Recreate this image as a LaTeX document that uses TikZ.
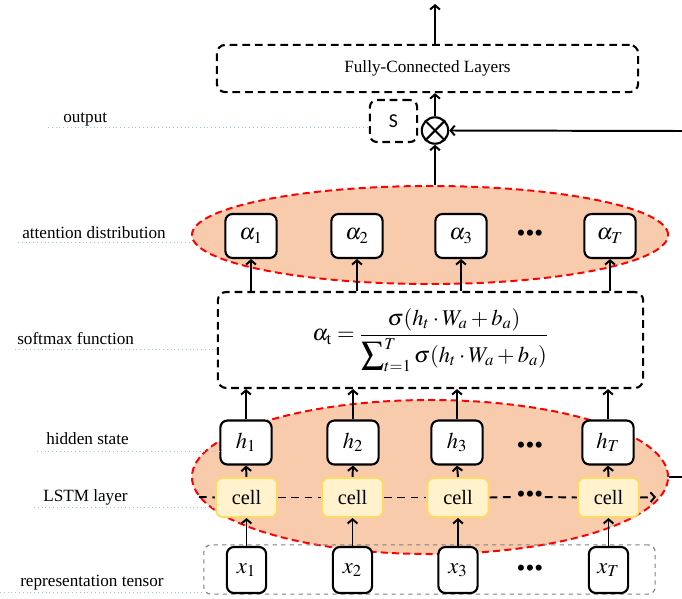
\documentclass[tikz,border=0pt]{standalone}
\usepackage{amsmath}
\usepackage{mathptmx}
\usepackage{fontspec}
\setmainfont{Liberation Serif}
\setsansfont{Carlito}
\usepackage{tikz}
\usetikzlibrary{arrows.meta,positioning,shapes.geometric,calc}
\definecolor{peach}{HTML}{F8CBAD}
\definecolor{dashred}{HTML}{FF0000}
\definecolor{cellbg}{HTML}{FFF2CC}
\definecolor{cellbd}{HTML}{FFD966}
\definecolor{guidebl}{HTML}{9DC3E6}
\definecolor{tensorbd}{HTML}{808080}
\tikzset{
  unitbox/.style={draw,fill=white,rounded corners=5pt,line width=1.5pt,
                  minimum width=1.28cm,minimum height=1.1cm,inner sep=0pt,
                  font=\fontsize{16}{18}\selectfont},
  inbox/.style={unitbox,minimum width=0.98cm,minimum height=1.15cm},
  cellbox/.style={draw=cellbd,fill=cellbg,rounded corners=5pt,line width=1.3pt,
                  minimum width=1.53cm,minimum height=0.98cm,inner sep=0pt,
                  font=\fontsize{14.5}{17}\selectfont},
  layerblob/.style={ellipse,draw=dashred,fill=peach,line width=1.4pt,
                    dash pattern=on 5pt off 3pt,inner sep=0pt},
  dashbox/.style={draw,rounded corners=6pt,line width=1.5pt,
                  dash pattern=on 5.5pt off 3.5pt,inner sep=0pt},
  guide/.style={draw=guidebl,line width=0.7pt,dotted},
  lbl/.style={anchor=base west,inner sep=0pt,
              font=\fontsize{12.2}{14}\selectfont},
  dotsrow/.style={inner sep=1pt,font=\fontsize{18}{20}\selectfont},
  chain/.style={line width=1.4pt,dash pattern=on 5.5pt off 4pt},
  arrowup/.style={-{Straight Barb[length=3pt,width=7pt]},line width=1.4pt},
}

\begin{document}
\begin{tikzpicture}[x=0.025cm,y=-0.025cm]
  \useasboundingbox (0,0) rectangle (682,598);
  % background blobs
  \node[layerblob,minimum width=11.9cm,minimum height=3.85cm] (lstm) at (430,477) {};
  \node[layerblob,minimum width=11.9cm,minimum height=2.45cm] (att) at (430,235) {};
  % input tensor frame
  \node[draw=tensorbd,dashed,rounded corners=5pt,line width=0.8pt,
        minimum width=11.28cm,minimum height=1.23cm] (rep) at (429.5,569.5) {};
  % softmax box
  \node[dashbox,minimum width=10.63cm,minimum height=2.4cm,
        font=\fontsize{16}{19}\selectfont] (sm) at (430.5,340)
    {$\alpha_{\mathrm{t}}=\dfrac{\sigma(h_t\cdot W_a+b_a)}
      {\displaystyle\sum\nolimits_{t=1}^{T}\sigma(h_t\cdot W_a+b_a)}$};
  % fully-connected block
  \node[dashbox,minimum width=10.53cm,minimum height=1.18cm,
        font=\fontsize{12.2}{14}\selectfont] (fc) at (427.5,68.5)
    {Fully-Connected Layers};
  % output S and product
  \node[dashbox,rounded corners=5pt,minimum width=1.18cm,minimum height=1.05cm,
        font=\sffamily\fontsize{14}{16}\selectfont] (S) at (393.5,121) {S};
  \node[circle,draw,line width=1.5pt,minimum size=0.66cm,inner sep=0pt]
    (ot) at (435,130.5) {};
  \draw[line width=1.5pt] (ot.north west) -- (ot.south east)
                          (ot.north east) -- (ot.south west);

  % columns
  \foreach \i/\ax/\hx/\cx in {1/251/246/246.5, 2/357/353/352.5,
                              3/461/457/458, T/610/608/608.5}{
    \node[unitbox] (a\i) at (\ax,236) {$\alpha_{\i}$};
    \node[unitbox] (h\i) at (\hx,442.5) {$h_{\i}$};
    \node[cellbox] (c\i) at (\cx,497.5) {cell};
    \node[inbox] (x\i) at (\cx,570) {$x_{\i}$};
    \draw[arrowup] (x\i.north) -- (c\i.south);
    \draw[arrowup] (c\i.north) -- (h\i.south);
    \draw[arrowup] (h\i.north) -- (h\i.north |- sm.south);
    \draw[arrowup] (a\i.south |- sm.north) -- (a\i.south);
  }
  \node[dotsrow] (ad) at (530,236) {\textbullet\textbullet\textbullet};
  \node[dotsrow] (hd) at (530,448) {\textbullet\textbullet\textbullet};
  \node[dotsrow] (cd) at (530,497) {\textbullet\textbullet\textbullet};
  \node[dotsrow] (xd) at (530,571) {\textbullet\textbullet\textbullet};

  % recurrent chain
  \coordinate (chin) at (199,497);
  \coordinate (chout) at (656,497);
  \draw[chain] (chin) -- (c1.west);
  \draw[chain] (c1.east) -- (c2.west);
  \draw[chain] (c2.east) -- (c3.west);
  \draw[chain] (c3.east) -- (cd.west);
  \draw[chain] (cd.east) -- (cT.west);
  \draw[chain,-{Straight Barb[length=3pt,width=7pt]}] (cT.east) -- (chout);

  % top part
  \coordinate (loopin) at (682,131);
  \coordinate (loopout) at (682,477);
  \coordinate (topout) at (435,4);
  \draw[line width=1.4pt] (lstm.east) -- (loopout);
  \draw[arrowup] (loopin) -- (ot.east);
  \draw[arrowup] (ot |- att.north) -- (ot.south);
  \draw[arrowup] (ot.north) -- (ot.north |- fc.south);
  \draw[arrowup] (fc.north -| ot) -- (topout);

  % side labels
  \node[lbl] (lout) at (63,122) {output};
  \node[lbl] (latt) at (22,238) {attention distribution};
  \node[lbl] (lsm) at (17,344) {softmax function};
  \node[lbl] (lhid) at (46,444) {hidden state};
  \node[lbl] (llstm) at (43,501) {LSTM layer};
  \node[lbl] (lrep) at (20,586) {representation tensor};
  \draw[guide] (48,127) -- (S.west |- 0,127);
  \draw[guide] (18,242) -- (att.west |- 0,242);
  \draw[guide] (15,349) -- (sm.west |- 0,349);
  \draw[guide] (37,451) -- (h1.west |- 0,451);
  \draw[guide] (34,507) -- (c1.west |- 0,507);
  \draw[guide] (0,592) -- (rep.west |- 0,592);
\end{tikzpicture}
\end{document}
